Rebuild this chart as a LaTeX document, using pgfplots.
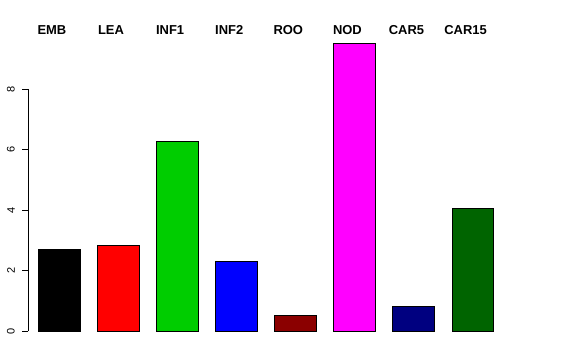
\documentclass[border=0pt]{standalone}
\usepackage{pgfplots}
\pgfplotsset{compat=1.18}
\usepackage{fontspec}
\setmainfont{Liberation Sans}
\definecolor{rgreen}{RGB}{0,205,0}
\definecolor{rdarkred}{RGB}{139,0,0}
\definecolor{rnavy}{RGB}{0,0,128}
\definecolor{rdarkgreen}{RGB}{0,100,0}
\definecolor{rmagenta}{RGB}{255,0,255}
\begin{document}
\begin{tikzpicture}[lbl/.style={font=\bfseries\fontsize{13}{15}\selectfont, inner sep=0pt}]
\useasboundingbox (0,0) rectangle (576bp,360bp);
\begin{axis}[
  at={(28bp,29bp)}, anchor=south west,
  scale only axis, width=502bp, height=299.5bp,
  xmin=-0.525, xmax=7.97, ymin=0, ymax=9.9,
  axis x line=none, axis y line=left,
  y axis line style={draw opacity=0,-},
  ytick={0,2,4,6,8},
  yticklabels={0,2,4,6,8},
  major tick length=0pt,
  tick label style={font=\fontsize{11}{13}\selectfont},
  yticklabel style={xshift=-13bp, rotate=90, anchor=south, inner sep=0pt},
  ybar, bar width=0.71, bar shift=0pt,
  clip=false,
]
\draw[black, line width=0.6pt] (axis cs:-0.525,0) -- (axis cs:-0.525,8);
\draw[black, line width=0.6pt] (axis cs:-0.525,0) -- (axis cs:-0.627,0);
\draw[black, line width=0.6pt] (axis cs:-0.525,2) -- (axis cs:-0.627,2);
\draw[black, line width=0.6pt] (axis cs:-0.525,4) -- (axis cs:-0.627,4);
\draw[black, line width=0.6pt] (axis cs:-0.525,6) -- (axis cs:-0.627,6);
\draw[black, line width=0.6pt] (axis cs:-0.525,8) -- (axis cs:-0.627,8);
\addplot[fill=black, draw=black] coordinates {(0,2.70)};
\addplot[fill=red, draw=black] coordinates {(1,2.84)};
\addplot[fill=rgreen, draw=black] coordinates {(2,6.28)};
\addplot[fill=blue, draw=black] coordinates {(3,2.31)};
\addplot[fill=rdarkred, draw=black] coordinates {(4,0.53)};
\addplot[fill=rmagenta, draw=black] coordinates {(5,9.52)};
\addplot[fill=rnavy, draw=black] coordinates {(6,0.83)};
\addplot[fill=rdarkgreen, draw=black] coordinates {(7,4.07)};
\node[lbl] at (axis cs:-0.12,9.95) {EMB};
\node[lbl] at (axis cs:0.88,9.95) {LEA};
\node[lbl] at (axis cs:1.88,9.95) {INF1};
\node[lbl] at (axis cs:2.88,9.95) {INF2};
\node[lbl] at (axis cs:3.88,9.95) {ROO};
\node[lbl] at (axis cs:4.88,9.95) {NOD};
\node[lbl] at (axis cs:5.88,9.95) {CAR5};
\node[lbl] at (axis cs:6.88,9.95) {CAR15};
\end{axis}
\end{tikzpicture}
\end{document}
